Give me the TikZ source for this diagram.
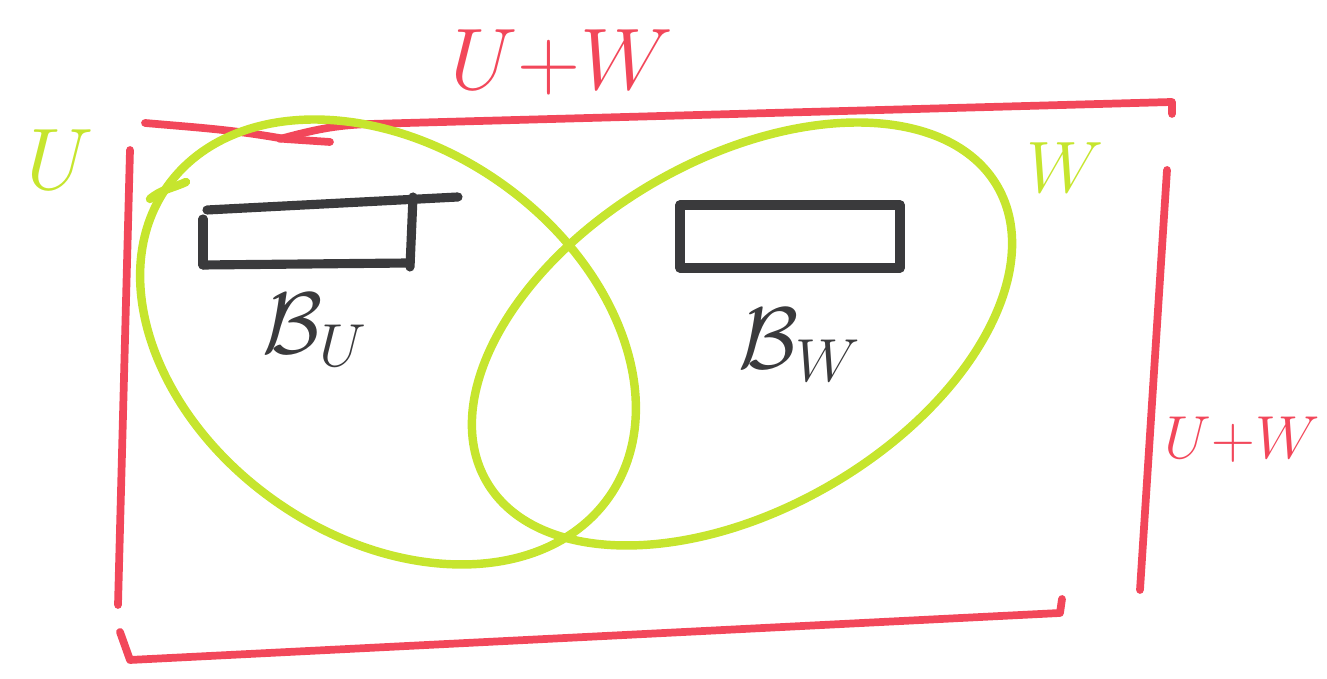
\documentclass[tikz,border=0pt]{standalone}
\usepackage{amsmath,amssymb}
\usepackage{xcolor}
\usepackage{tikz}
\usetikzlibrary{calc}
\definecolor{sumcolor}{HTML}{F2475A}
\definecolor{subcolor}{HTML}{C6E52E}
\definecolor{basecolor}{HTML}{3A3A3C}

\begin{document}
\begin{tikzpicture}[
    sumline/.style={draw=sumcolor, line width=2.2pt, line cap=round, line join=round},
    subline/.style={draw=subcolor, line width=2.4pt, line cap=round},
    baseline/.style={draw=basecolor, line width=2.6pt, line cap=round, line join=round},
    sumlabel/.style={text=sumcolor, font=\fontsize{#1}{#1}\selectfont},
    sublabel/.style={text=subcolor, font=\fontsize{#1}{#1}\selectfont},
    baselabel/.style={text=basecolor, font=\fontsize{24}{24}\selectfont}
]
\useasboundingbox (0,0) rectangle (13.27,6.79);

% Sum space U+W (open frame)
\coordinate (tl) at (1.45,5.56);
\coordinate (tr) at (11.72,5.77);
\draw[sumline] (tl) to[out=-5,in=170] (2.85,5.40) -- (3.30,5.37);
\draw[sumline] (2.80,5.40) to[out=15,in=182] (3.70,5.55) -- (tr) -- ++(0,-0.12);
\draw[sumline] (11.67,5.09) -- (11.40,0.89);
\draw[sumline] (1.30,5.29) -- (1.18,0.74);
\draw[sumline] (1.20,0.47) -- (1.30,0.19) -- (10.60,0.66) -- ++(0.02,0.14);

% Subspaces U and W
\draw[subline, rotate around={-35:(3.88,3.37)}] (3.88,3.37) ellipse (2.7cm and 1.95cm);
\draw[subline, rotate around={30:(7.42,3.45)}] (7.42,3.45) ellipse (2.95cm and 1.75cm);
\draw[subline] (1.50,4.80) to[out=40,in=205] (1.86,4.97);

% Bases
\draw[baseline] (2.03,4.14) -- (2.03,4.60);
\draw[baseline] (2.07,4.69) -- (4.58,4.82);
\draw[baseline] (2.03,4.14) -- (4.10,4.16);
\draw[baseline] (4.13,4.82) -- (4.10,4.12);
\draw[baseline] (6.80,4.11) rectangle (9.00,4.74);

% Labels
\node[sumlabel=30] (sumtop) at (5.62,6.17) {$U{+}W$};
\node[sumlabel=17] (sumright) at (12.42,2.39) {$U{+}W$};
\node[sublabel=28] (ulabel) at (0.60,5.19) {$U$};
\node[sublabel=20] (wlabel) at (10.65,5.11) {$W$};
\node[baselabel] (bu) at (3.15,3.49) {$\mathcal{B}_U$};
\node[baselabel] (bw) at (8.00,3.34) {$\mathcal{B}_W$};
\end{tikzpicture}
\end{document}
